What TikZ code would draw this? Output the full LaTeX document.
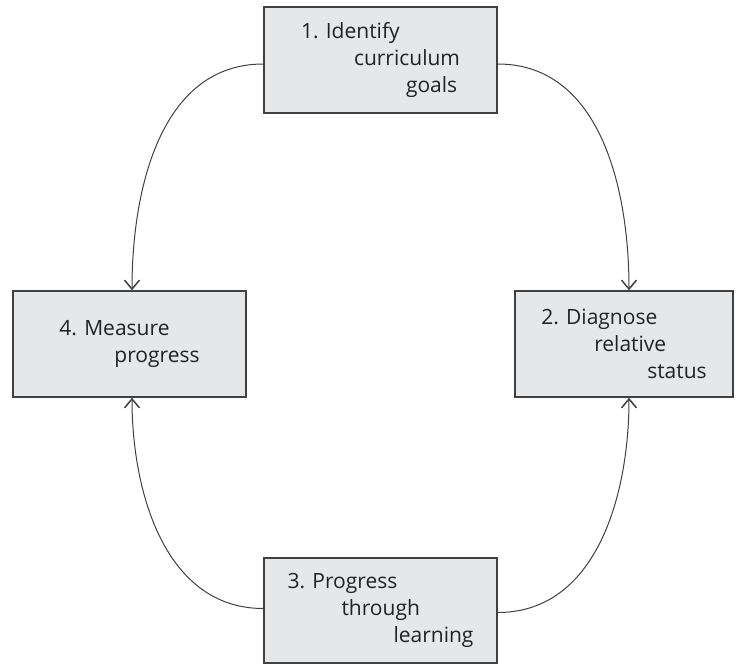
\documentclass[tikz,border=0pt]{standalone}
\usepackage{fontspec}
\setmainfont{Open Sans}
\usepackage{xcolor}
\usepackage{tikz}
\usetikzlibrary{arrows.meta, positioning}

\definecolor{boxfill}{HTML}{E6E7E9}
\definecolor{boxline}{HTML}{404040}
\definecolor{textgray}{HTML}{222222}

\begin{document}
\begin{tikzpicture}[x=1pt, y=-1pt,
    stage/.style={draw=boxline, line width=1.5pt, fill=boxfill,
        minimum height=106pt, align=left, text=textgray,
        font=\fontsize{21}{27}\selectfont},
    flow/.style={-{Straight Barb[length=9pt, width=15pt, line width=1.5pt]},
        draw=boxline, line width=1pt}]
    \useasboundingbox (0,0) rectangle (736,664);

    % 1. Four stages of the cycle
    \node[stage, minimum width=233pt] (identify) at (380.5,60)
        {1. Identify\\\hspace*{53pt}curriculum\\\hspace*{105pt}goals};
    \node[stage, minimum width=218pt] (diagnose) at (624,344)
        {2. Diagnose\\\hspace*{53pt}relative\\\hspace*{106pt}status};
    \node[stage, minimum width=233pt, minimum height=105pt] (learning) at (380.5,610.5)
        {3. Progress\\\hspace*{54pt}through\\\hspace*{106pt}learning};
    \node[stage, minimum width=233pt] (measure) at (129.5,344)
        {4. Measure\\\hspace*{55pt}progress};

    % 2. Curved arrows between the stages
    \draw[flow] ([yshift=-4pt]identify.west) to[out=180, in=90] ([xshift=2.5pt]measure.north);
    \draw[flow] ([yshift=-4pt]identify.east) to[out=0, in=90] ([xshift=5pt]diagnose.north);
    \draw[flow] ([yshift=2pt]learning.west) to[out=180, in=-90] ([xshift=2.5pt]measure.south);
    \draw[flow] ([yshift=-2pt]learning.east) to[out=0, in=-90] ([xshift=5pt]diagnose.south);

\end{tikzpicture}
\end{document}
